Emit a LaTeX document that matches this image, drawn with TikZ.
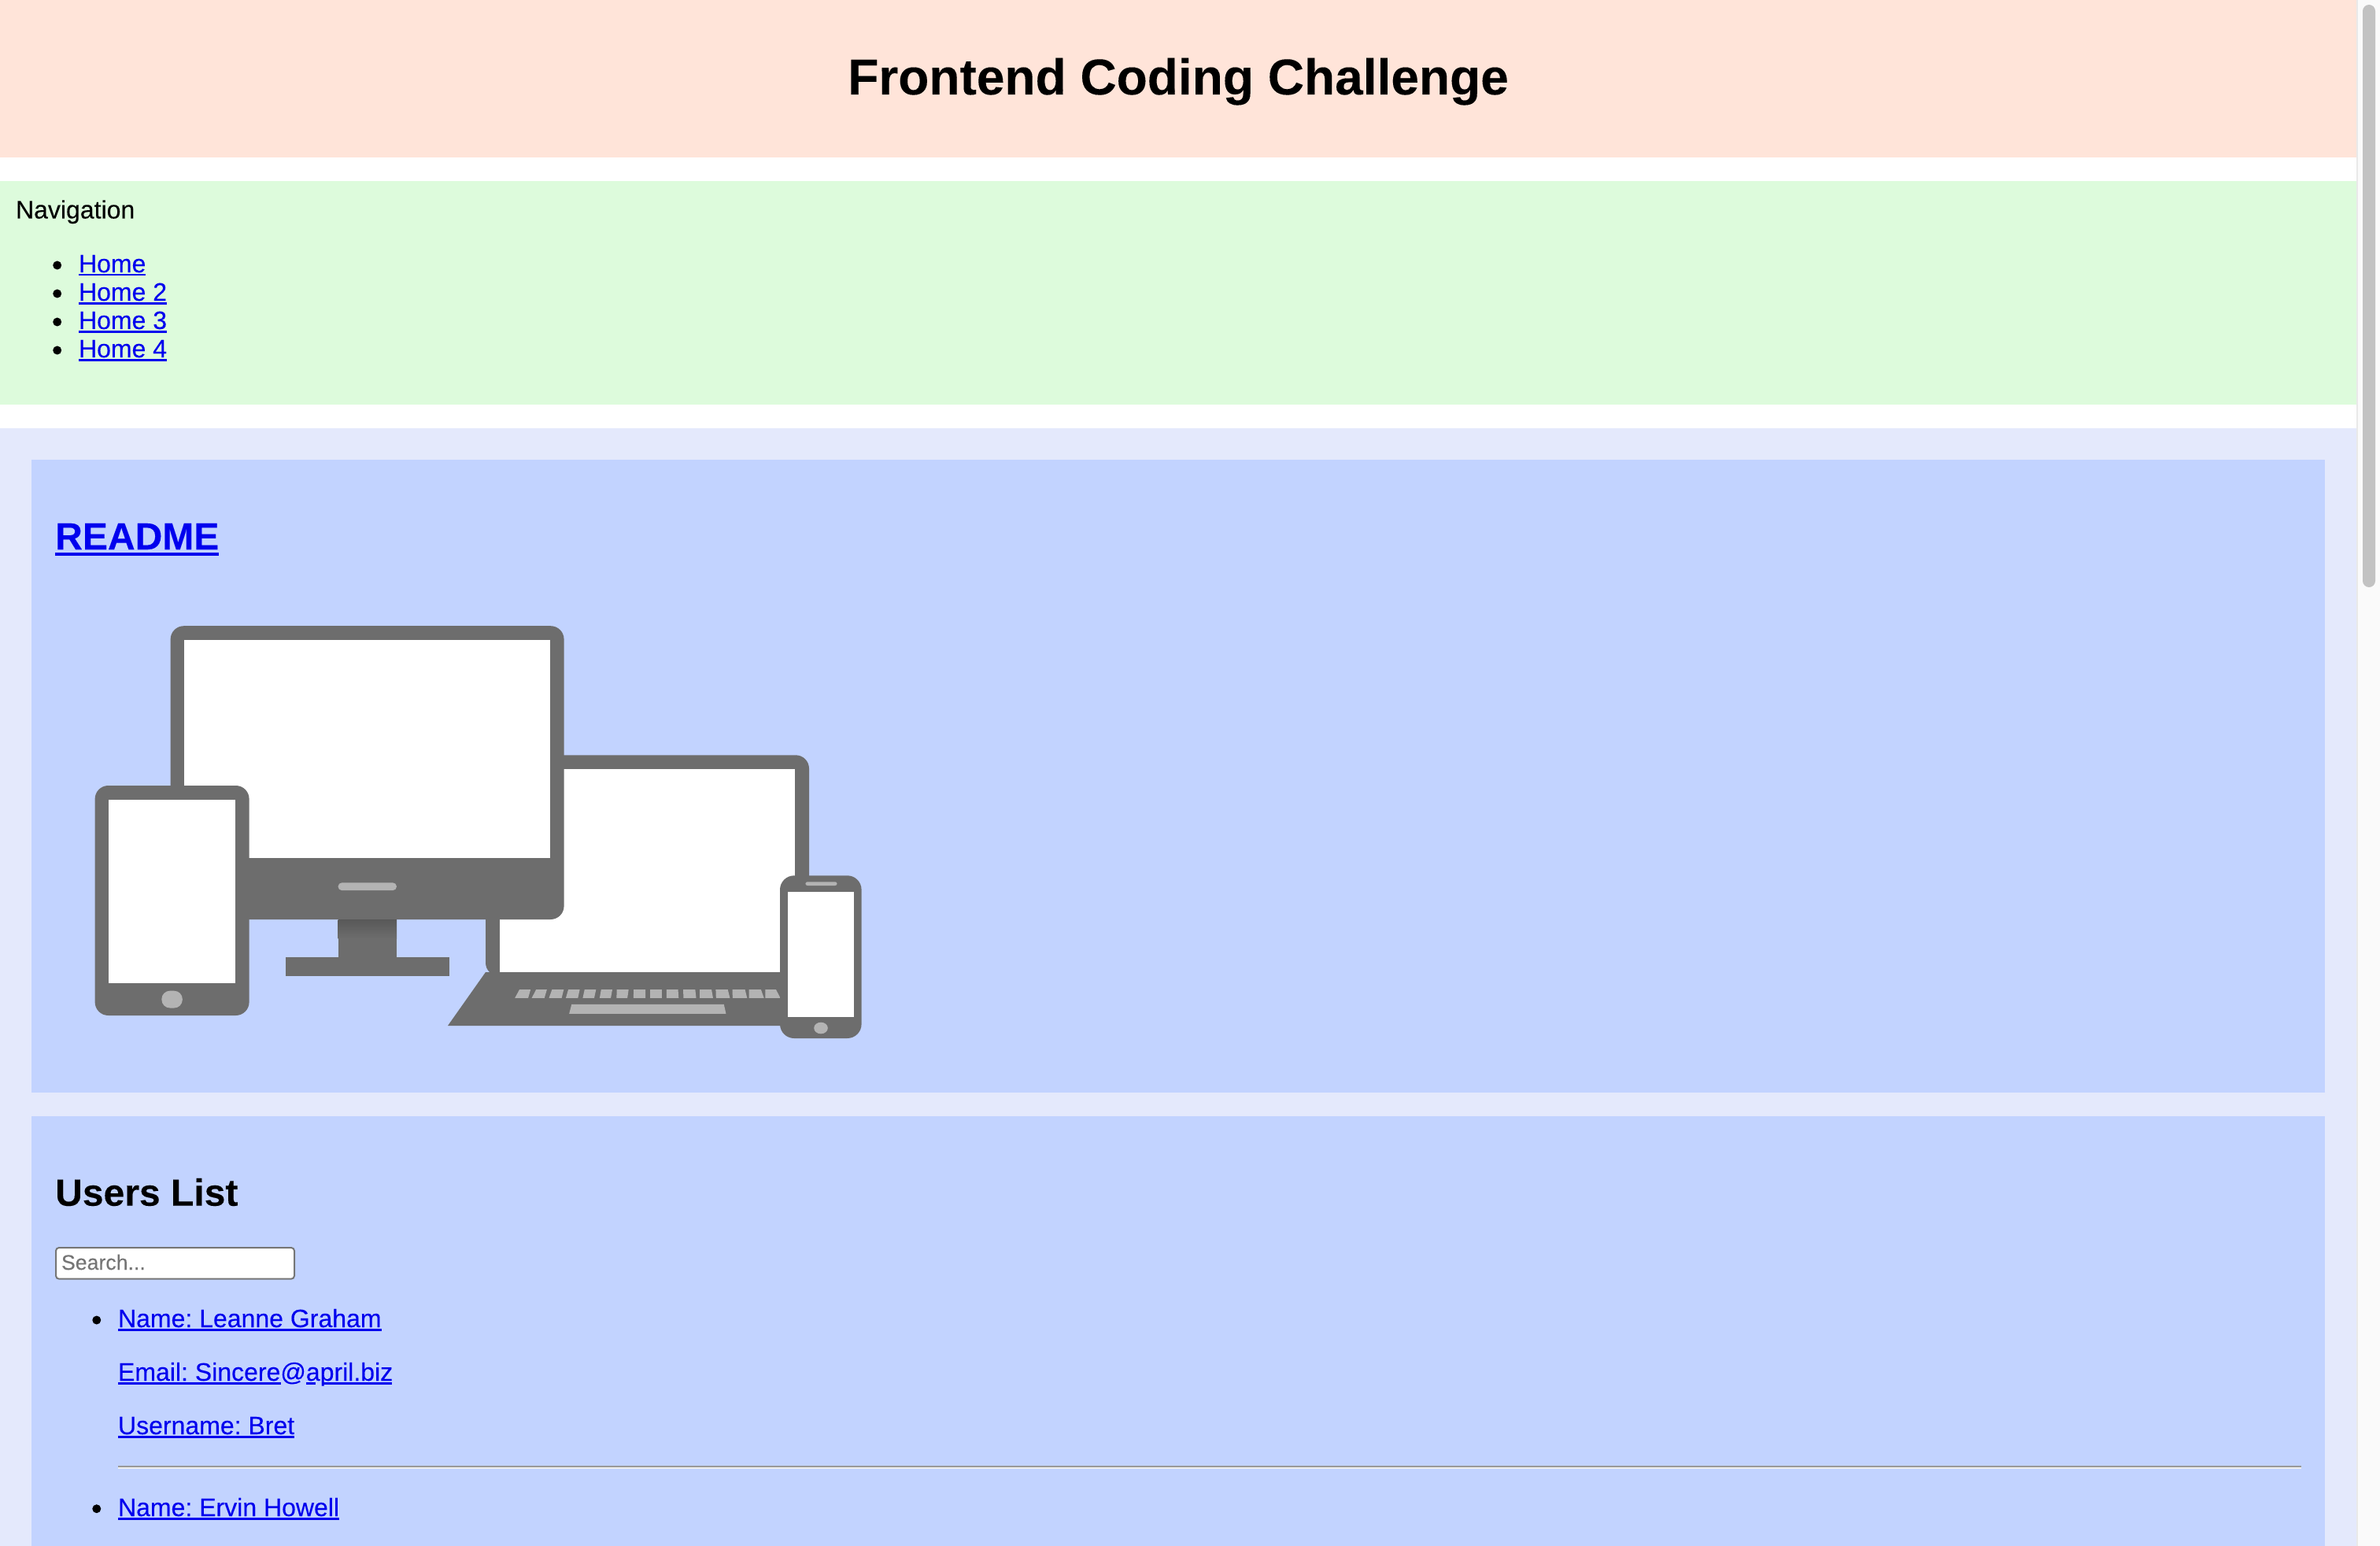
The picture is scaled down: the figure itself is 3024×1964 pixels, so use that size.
\documentclass[tikz,border=0pt]{standalone}
\usepackage{fontspec}
\setmainfont{Liberation Sans}[FakeBold=0.12]
\frenchspacing
\definecolor{headbg}{HTML}{FFE4D9}
\definecolor{navbg}{HTML}{DDFBDC}
\definecolor{mainbg}{HTML}{E4E9FC}
\definecolor{panelbg}{HTML}{C2D3FF}
\definecolor{linkblue}{HTML}{0000EE}
\definecolor{devgrey}{HTML}{6D6D6D}
\definecolor{devlight}{HTML}{B3B3B3}
\definecolor{hrdark}{HTML}{999999}
\definecolor{hrlight}{HTML}{EEEEEE}
\definecolor{trackbg}{HTML}{FAFAFA}
\definecolor{trackedge}{HTML}{E9E9E9}
\definecolor{thumb}{HTML}{C2C2C2}
\definecolor{inputedge}{HTML}{767676}
\definecolor{placeholder}{HTML}{757575}
\definecolor{neckdark}{HTML}{585858}
\newcommand\bodyfont{\fontsize{9.105pt}{11pt}\selectfont}
\newcommand\linktext[3]{\setbox0=\hbox{#1}\rlap{\rule[#2]{\wd0}{#3}}\box0}
\newcommand\smalllink[1]{\linktext{#1}{-1.28pt}{0.75pt}}
\tikzset{
  pagetext/.style={inner sep=0pt,outer sep=0pt,anchor=base west,font=\bodyfont,text=black},
  linknode/.style={pagetext,text=linkblue},
  device/.style={fill=devgrey},
  screen/.style={fill=white},
  detail/.style={fill=devlight},
  bulletdot/.style={fill=black},
  underlinepiece/.style={fill=linkblue}
}
\begin{document}
\begin{tikzpicture}[x=0.01cm,y=-0.01cm]
\useasboundingbox (0,0) rectangle (3024,1964);
\fill[white] (0,0) rectangle (3024,1964);
% page bands
\fill[headbg] (0,0) rectangle (2994,200);
\fill[navbg] (0,230) rectangle (2994,514);
\fill[mainbg] (0,544) rectangle (2994,1964);
\fill[panelbg] (40,584) rectangle (2954,1388);
\fill[panelbg] (40,1418) rectangle (2954,1964);
% scrollbar
\fill[trackbg] (2994,0) rectangle (3024,1964);
\fill[trackedge] (2994,0) rectangle (2996,1964);
\fill[thumb,rounded corners=0.08cm] (3002,6) rectangle (3018,746);
% header
\node[pagetext,anchor=base,font=\fontsize{18.21pt}{22pt}\selectfont\bfseries] (title) at (1497,120) {Frontend Coding Challenge};
% navigation
\node[pagetext] (navlabel) at (20,277.5) {Navigation};
\foreach \y in {337,373,409,445} \fill[bulletdot] (72.7,\y) circle (5.5);
\node[linknode] (home1) at (100,346) {\smalllink{Home}};
\node[linknode] (home2) at (100,382) {\smalllink{Home 2}};
\node[linknode] (home3) at (100,418) {\smalllink{Home 3}};
\node[linknode] (home4) at (100,454) {\smalllink{Home 4}};
% readme
\node[linknode,font=\fontsize{13.66pt}{16pt}\selectfont\bfseries] (readme) at (70.2,698) {\linktext{README}{-2.28pt}{1.14pt}};
% laptop
\fill[device,rounded corners=0.17cm] (617,1240) -- (617,959.3) -- (1028,959.3) -- (1028,1240) -- cycle;
\fill[device] (617,1235) -- (569,1303) -- (1000,1303) -- (1000,1235) -- cycle;
\fill[screen] (634.6,977) rectangle (1010.4,1234.7);
\begin{scope}[shift={(550,950)},x=0.003827cm,y=-0.003333cm]
\foreach \a/\b/\c/\d in {287/324/272/316,342/378/328/370,395/434/385/427,449/487/441/481,503/541/497/535,558/595/553/590,610/649/609/645,666/705/665/705,720/759/720/759,775/813/775/815,830/870/831/873,885/924/885/929,938/978/939/985,993/1035/994/1042,1048/1088/1048/1098,1102/1138/1102/1152}
  \fill[detail] (\a,923) -- (\b,923) -- (\d,955) -- (\c,955) -- cycle;
\fill[detail] (460,979) -- (965,979) -- (972,1015) -- (452,1015) -- cycle;
\end{scope}
% monitor
\fill[device,rounded corners=0.17cm] (216.6,795.2) rectangle (716.6,1168);
\fill[screen] (234,813.2) rectangle (699,1090);
\fill[detail,rounded corners=0.05cm] (429.5,1121.3) rectangle (504,1131.2);
\shade[top color=neckdark,bottom color=devgrey] (429.5,1168) rectangle (504,1192);
\fill[device] (429.5,1192) rectangle (504,1216);
\fill[device] (363,1215.8) rectangle (570.6,1239.5);
% tablet
\fill[device,rounded corners=0.17cm] (120.6,998) rectangle (316.6,1290);
\fill[screen] (138,1015.6) rectangle (299,1249);
\fill[detail,rounded corners=0.105cm] (205.4,1258.7) rectangle (231.8,1280.5);
% phone
\fill[device,rounded corners=0.18cm] (991,1112.3) rectangle (1094.6,1319);
\fill[screen] (1001,1132.7) rectangle (1085.4,1292.3);
\fill[detail,rounded corners=0.025cm] (1023.4,1120.3) rectangle (1063.6,1125);
\fill[detail] (1043,1306) ellipse (8.8 and 7.3);
% users list
\node[pagetext,font=\fontsize{13.66pt}{16pt}\selectfont\bfseries] (users) at (70.2,1531.7) {Users List};
\draw[inputedge,fill=white,line width=0.02cm,rounded corners=0.04cm] (71,1585) rectangle (374,1624.7);
\node[pagetext,text=placeholder,font=\fontsize{7.588pt}{9pt}\selectfont] (search) at (78,1613) {Search...};
\foreach \y in {1677,1916.7} \fill[bulletdot] (122.8,\y) circle (5.5);
\node[linknode] (name1) at (150,1686) {\smalllink{Name: Leanne Graham}};
\node[linknode] (email1) at (150,1754) {Email: Sincere@april.biz};
\fill[underlinepiece] (150,1755.8) rectangle (357,1758.5);
\fill[underlinepiece] (389,1755.8) rectangle (401,1758.5);
\fill[underlinepiece] (409,1755.8) rectangle (498,1758.5);
\node[linknode] (user1) at (150,1822) {\smalllink{Username: Bret}};
\fill[hrdark] (150,1862) rectangle (2924,1864);
\fill[hrlight] (150,1864) rectangle (2924,1866);
\node[linknode] (name2) at (150,1926) {\smalllink{Name: Ervin Howell}};
\end{tikzpicture}
\end{document}
